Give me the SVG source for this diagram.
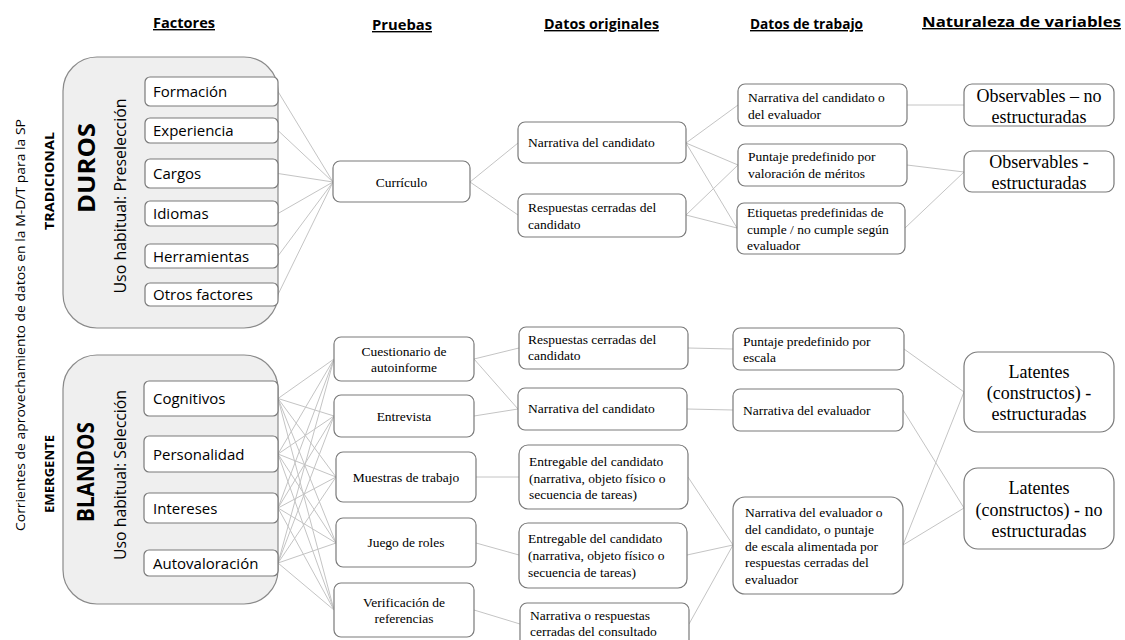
<svg xmlns="http://www.w3.org/2000/svg" width="1125" height="640" viewBox="0 0 1125 640">
<style>
.bg{fill:#ffffff}
.cont{fill:#efefef;stroke:#8a8a8a;stroke-width:1.2}
.box{fill:#ffffff;stroke:#7a7a7a;stroke-width:1.2}
.hdr{font-family:"Open Sans","Liberation Sans",sans-serif;font-weight:bold;font-size:14px;fill:#000;text-decoration:underline}
.fac{font-family:"Open Sans","Liberation Sans",sans-serif;font-size:15px;fill:#000}
.side{font-family:"Open Sans","Liberation Sans",sans-serif;font-size:13px;fill:#000}
.sideb{font-family:"Open Sans","Liberation Sans",sans-serif;font-size:12px;font-weight:bold;fill:#000}
.big{font-family:"Open Sans","Liberation Sans",sans-serif;font-size:23px;font-weight:bold;fill:#000}
.uso{font-family:"Open Sans","Liberation Sans",sans-serif;font-size:16px;fill:#000}
.sr{font-family:"Liberation Serif","Times New Roman",serif;font-size:13.5px;fill:#000}
.src{font-family:"Liberation Serif","Times New Roman",serif;font-size:13.5px;fill:#000;text-anchor:middle}
.nat{font-family:"Liberation Serif","Times New Roman",serif;font-size:18px;fill:#000;text-anchor:middle}
.con line{stroke:#c4c4c4;stroke-width:1}
</style>
<rect class="bg" x="0" y="0" width="1125" height="640"/>

<g id="headers">
<text class="hdr" x="153" y="28" textLength="62" lengthAdjust="spacingAndGlyphs">Factores</text>
<text class="hdr" x="372" y="30" textLength="60" lengthAdjust="spacingAndGlyphs">Pruebas</text>
<text class="hdr" x="544" y="29" textLength="115" lengthAdjust="spacingAndGlyphs">Datos originales</text>
<text class="hdr" x="750" y="29" textLength="113" lengthAdjust="spacingAndGlyphs">Datos de trabajo</text>
<text class="hdr" x="922" y="27" textLength="199" lengthAdjust="spacingAndGlyphs">Naturaleza de variables</text>
</g>

<g id="side-labels">
<text class="side" transform="translate(20 325) rotate(-90)" text-anchor="middle" dy="0.35em" textLength="412" lengthAdjust="spacingAndGlyphs">Corrientes de aprovechamiento de datos en la M-D/T para la SP</text>
<text class="sideb" transform="translate(50 181) rotate(-90)" text-anchor="middle" dy="0.35em" textLength="98" lengthAdjust="spacingAndGlyphs">TRADICIONAL</text>
<text class="sideb" transform="translate(50 474) rotate(-90)" text-anchor="middle" dy="0.35em" textLength="78" lengthAdjust="spacingAndGlyphs">EMERGENTE</text>
</g>

<g id="connectors" class="con">
<!-- duros -> curriculo -->
<line x1="278" y1="91.5" x2="333" y2="182"/>
<line x1="278" y1="130.5" x2="333" y2="182"/>
<line x1="278" y1="173.5" x2="333" y2="182"/>
<line x1="278" y1="213.5" x2="333" y2="182"/>
<line x1="278" y1="256" x2="333" y2="182"/>
<line x1="278" y1="294.5" x2="333" y2="182"/>
<!-- curriculo -> datos originales -->
<line x1="470" y1="182" x2="518" y2="143"/>
<line x1="470" y1="182" x2="518" y2="215"/>
<!-- datos originales -> datos trabajo (top) -->
<line x1="686" y1="143" x2="738" y2="105"/>
<line x1="686" y1="143" x2="738" y2="165"/>
<line x1="686" y1="143" x2="737" y2="228"/>
<line x1="686" y1="215" x2="738" y2="165"/>
<line x1="686" y1="215" x2="737" y2="228"/>
<!-- datos trabajo -> naturaleza (top) -->
<line x1="907" y1="105" x2="964" y2="105"/>
<line x1="907" y1="165" x2="964" y2="172"/>
<line x1="905" y1="228" x2="964" y2="172"/>
<!-- blandos -> pruebas -->
<line x1="278" y1="398.5" x2="334" y2="359"/>
<line x1="278" y1="398.5" x2="334" y2="416"/>
<line x1="278" y1="398.5" x2="336" y2="477"/>
<line x1="278" y1="398.5" x2="336" y2="543"/>
<line x1="278" y1="398.5" x2="334" y2="610"/>
<line x1="278" y1="454" x2="334" y2="359"/>
<line x1="278" y1="454" x2="334" y2="416"/>
<line x1="278" y1="454" x2="336" y2="477"/>
<line x1="278" y1="454" x2="336" y2="543"/>
<line x1="278" y1="454" x2="334" y2="610"/>
<line x1="278" y1="508" x2="334" y2="359"/>
<line x1="278" y1="508" x2="334" y2="416"/>
<line x1="278" y1="508" x2="336" y2="477"/>
<line x1="278" y1="508" x2="336" y2="543"/>
<line x1="278" y1="508" x2="334" y2="610"/>
<line x1="278" y1="563" x2="334" y2="359"/>
<line x1="278" y1="563" x2="334" y2="416"/>
<line x1="278" y1="563" x2="336" y2="477"/>
<line x1="278" y1="563" x2="336" y2="543"/>
<line x1="278" y1="563" x2="334" y2="610"/>
<!-- pruebas -> datos originales (bottom) -->
<line x1="474" y1="359" x2="519" y2="348"/>
<line x1="474" y1="359" x2="518" y2="409"/>
<line x1="474" y1="416" x2="518" y2="409"/>
<line x1="476" y1="477" x2="519" y2="477"/>
<line x1="476" y1="543" x2="519" y2="555"/>
<line x1="474" y1="610" x2="520" y2="624"/>
<!-- datos originales -> datos trabajo (bottom) -->
<line x1="688" y1="348" x2="733" y2="349"/>
<line x1="687" y1="409" x2="733" y2="410"/>
<line x1="688" y1="477" x2="733" y2="545"/>
<line x1="687" y1="555" x2="733" y2="545"/>
<line x1="689" y1="624" x2="733" y2="545"/>
<!-- datos trabajo -> naturaleza (bottom) -->
<line x1="904" y1="349" x2="964" y2="392"/>
<line x1="903" y1="410" x2="964" y2="508"/>
<line x1="903" y1="545" x2="964" y2="392"/>
<line x1="903" y1="545" x2="964" y2="508"/>
</g>

<!-- DUROS container -->
<g id="duros">
<rect class="cont" x="63" y="57" width="215" height="271" rx="34" ry="34"/>
<text class="big" transform="translate(87 168) rotate(-90)" text-anchor="middle" dy="0.35em" textLength="90" lengthAdjust="spacingAndGlyphs">DUROS</text>
<text class="uso" transform="translate(120 196) rotate(-90)" text-anchor="middle" dy="0.35em" textLength="195" lengthAdjust="spacingAndGlyphs">Uso habitual: Preselección</text>
</g>
<g id="f-formacion"><rect class="box" x="145" y="77" width="133" height="29" rx="5"/><text class="fac" x="153" y="97">Formación</text></g>
<g id="f-experiencia"><rect class="box" x="145" y="118" width="133" height="25" rx="5"/><text class="fac" x="153" y="136">Experiencia</text></g>
<g id="f-cargos"><rect class="box" x="145" y="159" width="133" height="29" rx="5"/><text class="fac" x="153" y="179">Cargos</text></g>
<g id="f-idiomas"><rect class="box" x="145" y="201" width="133" height="25" rx="5"/><text class="fac" x="153" y="219">Idiomas</text></g>
<g id="f-herramientas"><rect class="box" x="145" y="244" width="133" height="24" rx="5"/><text class="fac" x="153" y="261.5">Herramientas</text></g>
<g id="f-otros"><rect class="box" x="145" y="283" width="133" height="23" rx="5"/><text class="fac" x="153" y="300">Otros factores</text></g>

<!-- BLANDOS container -->
<g id="blandos">
<rect class="cont" x="63" y="355" width="215" height="249" rx="34" ry="34"/>
<text class="big" transform="translate(86 472) rotate(-90)" text-anchor="middle" dy="0.35em" textLength="100" lengthAdjust="spacingAndGlyphs">BLANDOS</text>
<text class="uso" transform="translate(120 475) rotate(-90)" text-anchor="middle" dy="0.35em" textLength="170" lengthAdjust="spacingAndGlyphs">Uso habitual: Selección</text>
</g>
<g id="f-cognitivos"><rect class="box" x="144" y="381" width="134" height="35" rx="5"/><text class="fac" x="153" y="404">Cognitivos</text></g>
<g id="f-personalidad"><rect class="box" x="144" y="436" width="134" height="36" rx="5"/><text class="fac" x="153" y="459.5">Personalidad</text></g>
<g id="f-intereses"><rect class="box" x="144" y="493" width="134" height="30" rx="5"/><text class="fac" x="153" y="513.5">Intereses</text></g>
<g id="f-autovaloracion"><rect class="box" x="144" y="550" width="134" height="26" rx="5"/><text class="fac" x="153" y="568.5">Autovaloración</text></g>

<!-- Pruebas -->
<g id="p-curriculo"><rect class="box" x="333" y="161" width="137" height="41" rx="7"/><text class="src" x="401.5" y="186.5">Currículo</text></g>
<g id="p-cuestionario"><rect class="box" x="334" y="337" width="140" height="44" rx="7"/><text class="src" x="404" y="356">Cuestionario de</text><text class="src" x="404" y="372">autoinforme</text></g>
<g id="p-entrevista"><rect class="box" x="334" y="395" width="140" height="42" rx="7"/><text class="src" x="404" y="420.5">Entrevista</text></g>
<g id="p-muestras"><rect class="box" x="336" y="452" width="140" height="50" rx="7"/><text class="src" x="406" y="481.5">Muestras de trabajo</text></g>
<g id="p-juego"><rect class="box" x="336" y="518" width="140" height="49" rx="7"/><text class="src" x="406" y="547">Juego de roles</text></g>
<g id="p-verificacion"><rect class="box" x="334" y="583" width="140" height="54" rx="7"/><text class="src" x="404" y="607">Verificación de</text><text class="src" x="404" y="623">referencias</text></g>

<!-- Datos originales -->
<g id="o-narrativa1"><rect class="box" x="518" y="122" width="168" height="41" rx="7"/><text class="sr" x="528" y="147">Narrativa del candidato</text></g>
<g id="o-respuestas1"><rect class="box" x="518" y="194" width="168" height="43" rx="7"/><text class="sr" x="528" y="212">Respuestas cerradas del</text><text class="sr" x="528" y="229">candidato</text></g>
<g id="o-respuestas2"><rect class="box" x="519" y="327" width="169" height="42" rx="7"/><text class="sr" x="528" y="344">Respuestas cerradas del</text><text class="sr" x="528" y="360">candidato</text></g>
<g id="o-narrativa2"><rect class="box" x="518" y="388" width="169" height="42" rx="7"/><text class="sr" x="528" y="413">Narrativa del candidato</text></g>
<g id="o-entregable1"><rect class="box" x="519" y="445" width="169" height="64" rx="9"/><text class="sr" x="529" y="466">Entregable del candidato</text><text class="sr" x="529" y="482.5">(narrativa, objeto físico o</text><text class="sr" x="529" y="499">secuencia de tareas)</text></g>
<g id="o-entregable2"><rect class="box" x="519" y="523" width="168" height="65" rx="9"/><text class="sr" x="528" y="543">Entregable del candidato</text><text class="sr" x="528" y="560">(narrativa, objeto físico o</text><text class="sr" x="528" y="577">secuencia de tareas)</text></g>
<g id="o-consultado"><rect class="box" x="520" y="603" width="169" height="44" rx="7"/><text class="sr" x="530" y="620">Narrativa o respuestas</text><text class="sr" x="530" y="636">cerradas del consultado</text></g>

<!-- Datos de trabajo -->
<g id="t-narrativa-cand-eval"><rect class="box" x="738" y="84" width="169" height="42" rx="7"/><text class="sr" x="748" y="102">Narrativa del candidato o</text><text class="sr" x="748" y="119">del evaluador</text></g>
<g id="t-puntaje-meritos"><rect class="box" x="738" y="144" width="169" height="42" rx="7"/><text class="sr" x="748" y="161">Puntaje predefinido por</text><text class="sr" x="748" y="178">valoración de méritos</text></g>
<g id="t-etiquetas"><rect class="box" x="737" y="203" width="168" height="51" rx="7"/><text class="sr" x="747" y="217">Etiquetas predefinidas de</text><text class="sr" x="747" y="233.5">cumple / no cumple según</text><text class="sr" x="747" y="250">evaluador</text></g>
<g id="t-puntaje-escala"><rect class="box" x="733" y="328" width="171" height="42" rx="7"/><text class="sr" x="743" y="346">Puntaje predefinido por</text><text class="sr" x="743" y="362">escala</text></g>
<g id="t-narrativa-eval"><rect class="box" x="733" y="389" width="170" height="42" rx="7"/><text class="sr" x="743" y="415">Narrativa del evaluador</text></g>
<g id="t-narrativa-mixta"><rect class="box" x="733" y="497" width="170" height="97" rx="12"/><text class="sr" x="745" y="517">Narrativa del evaluador o</text><text class="sr" x="745" y="534">del candidato, o puntaje</text><text class="sr" x="745" y="550.5">de escala alimentada por</text><text class="sr" x="745" y="567">respuestas cerradas del</text><text class="sr" x="745" y="583.5">evaluador</text></g>

<!-- Naturaleza de variables -->
<g id="n-obs-no"><rect class="box" x="964" y="84" width="150" height="42" rx="8"/><text class="nat" x="1039" y="102">Observables – no</text><text class="nat" x="1039" y="123">estructuradas</text></g>
<g id="n-obs-est"><rect class="box" x="964" y="151" width="150" height="41" rx="8"/><text class="nat" x="1039" y="168">Observables -</text><text class="nat" x="1039" y="189">estructuradas</text></g>
<g id="n-lat-est"><rect class="box" x="964" y="352" width="150" height="80" rx="14"/><text class="nat" x="1039" y="378">Latentes</text><text class="nat" x="1039" y="399">(constructos) -</text><text class="nat" x="1039" y="420">estructuradas</text></g>
<g id="n-lat-no"><rect class="box" x="964" y="468" width="150" height="81" rx="14"/><text class="nat" x="1039" y="494">Latentes</text><text class="nat" x="1039" y="516">(constructos) - no</text><text class="nat" x="1039" y="537">estructuradas</text></g>
</svg>
